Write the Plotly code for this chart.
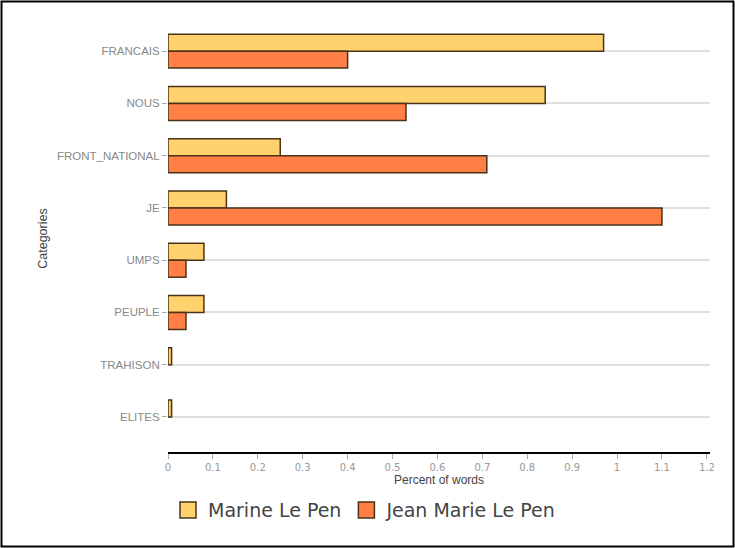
import plotly.graph_objects as go

categories = ["FRANCAIS", "NOUS", "FRONT_NATIONAL", "JE", "UMPS", "PEUPLE", "TRAHISON", "ELITES"]
marine = [0.97, 0.84, 0.25, 0.13, 0.08, 0.08, 0.008, 0.008]
jean_marie = [0.40, 0.53, 0.71, 1.10, 0.04, 0.04, None, None]
x_ticks = [0, 0.1, 0.2, 0.3, 0.4, 0.5, 0.6, 0.7, 0.8, 0.9, 1, 1.1, 1.2]
x_tick_text = ["0", "0.1", "0.2", "0.3", "0.4", "0.5", "0.6", "0.7", "0.8", "0.9", "1", "1.1", "1.2"]
series_names = ["Marine Le Pen", "Jean Marie Le Pen"]
series_colors = ["#FFD26E", "#FF7F45"]
outline = "#4a3318"

W, H = 735, 548
ML, MR, MT, MB = 168, 25, 25, 96
pw, ph = W - ML - MR, H - MT - MB

fig = go.Figure()
for vals, name, col in zip([marine, jean_marie], series_names, series_colors):
    fig.add_trace(go.Bar(
        y=categories, x=vals, orientation="h", name=name, showlegend=False,
        marker=dict(color=col, line=dict(color=outline, width=1.5)),
    ))
# legend entries with larger square swatches
for name, col in zip(series_names, series_colors):
    fig.add_trace(go.Scatter(
        x=[None], y=[None], mode="markers", name=name,
        marker=dict(symbol="square", size=16, color=col, line=dict(color=outline, width=1.5)),
    ))

fig.update_layout(
    width=W, height=H,
    margin=dict(l=ML, r=MR, t=MT, b=MB),
    paper_bgcolor="white", plot_bgcolor="white",
    barmode="group", bargap=0.35, bargroupgap=0,
    font=dict(family="Liberation Sans", color="#444"),
    xaxis=dict(
        range=[0, 1.207], tickvals=x_ticks, ticktext=x_tick_text,
        showgrid=False, zeroline=False,
        showline=True, linecolor="black", linewidth=2,
        ticks="outside", ticklen=5, tickcolor="#aaa",
        tickfont=dict(size=10, color="#999", family="DejaVu Sans"),
        title=dict(text="Percent of words", font=dict(size=12, color="#444"), standoff=4),
    ),
    yaxis=dict(
        categoryorder="array", categoryarray=categories,
        range=[7.67, -0.5],
        showgrid=True, gridcolor="#e0e0e0", gridwidth=1.5,
        zeroline=False, showline=False,
        ticks="outside", ticklen=5, tickcolor="#aaa",
        tickfont=dict(size=11.5, color="#888"),
        title=dict(text="Categories", font=dict(size=12.5, color="#444"), standoff=6),
    ),
    legend=dict(
        orientation="h", x=0.0, xanchor="left", y=-0.136, yanchor="middle",
        font=dict(size=19, color="#444", family="DejaVu Sans"),
        traceorder="normal",
    ),
    shapes=[dict(
        type="rect", xref="paper", yref="paper",
        x0=-(ML - 1.5) / pw, x1=(W - ML - 1.5) / pw,
        y0=-(MB - 1.5) / ph, y1=(H - MB - 1.5) / ph,
        line=dict(color="black", width=2),
    )],
)

fig.write_html("out.html", config={"displayModeBar": False},
               post_script="document.body.style.margin='0px';")
